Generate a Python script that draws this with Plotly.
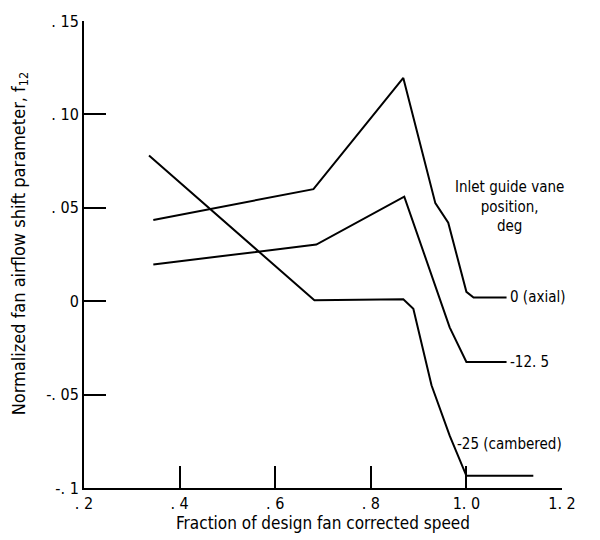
import plotly.graph_objects as go

# Data
x_axial = [0.345, 0.680, 0.868, 0.935, 0.962, 1.000, 1.015, 1.084]
y_axial = [0.0435, 0.060, 0.1195, 0.0525, 0.042, 0.005, 0.002, 0.002]

x_m125 = [0.345, 0.686, 0.870, 0.965, 1.000, 1.084]
y_m125 = [0.0197, 0.0303, 0.0560, -0.0140, -0.0325, -0.0325]

x_m25 = [0.336, 0.682, 0.868, 0.889, 0.927, 0.965, 1.000, 1.140]
y_m25 = [0.078, 0.0005, 0.001, -0.004, -0.0450, -0.0720, -0.0935, -0.0935]

x_tickvals = [0.2, 0.4, 0.6, 0.8, 1.0, 1.2]
x_ticktext = [". 2", ". 4", ". 6", ". 8", "1. 0", "1. 2"]
y_tickvals = [0.15, 0.10, 0.05, 0.0, -0.05, -0.1]
y_ticktext = [". 15", ". 10", ". 05", "0", "-. 05", "-. 1"]

FONT = "DejaVu Sans Condensed, Liberation Sans Narrow, Arial Narrow, Roboto, sans-serif"

fig = go.Figure()
for xs, ys in [(x_axial, y_axial), (x_m125, y_m125), (x_m25, y_m25)]:
    fig.add_trace(go.Scatter(x=xs, y=ys, mode="lines",
                             line=dict(color="black", width=2),
                             showlegend=False, hoverinfo="skip"))

fig.update_layout(
    width=600, height=540,
    margin=dict(l=84, r=38, t=16, b=52),
    paper_bgcolor="white", plot_bgcolor="white",
    font=dict(family=FONT, size=15, color="black"),
    xaxis=dict(range=[0.2, 1.2], tickvals=x_tickvals, ticktext=x_ticktext,
               ticks="inside", ticklen=22, tickwidth=2, tickcolor="black",
               showline=True, linecolor="black", linewidth=2,
               showgrid=False, zeroline=False, tickfont=dict(size=16)),
    yaxis=dict(range=[-0.1, 0.15], tickvals=y_tickvals, ticktext=y_ticktext,
               ticks="inside", ticklen=22, tickwidth=2, tickcolor="black",
               showline=True, linecolor="black", linewidth=2,
               showgrid=False, zeroline=False, tickfont=dict(size=16)),
)

annotations = [
    dict(text="Fraction of design fan corrected speed", xref="paper", yref="paper",
         x=0.5, y=-0.075, xanchor="center", yanchor="middle", font=dict(size=17)),
    dict(text="Normalized fan airflow shift parameter, f<sub>12</sub>", xref="paper", yref="paper",
         x=-0.135, y=0.525, xanchor="center", yanchor="middle", textangle=-90, font=dict(size=18)),
    dict(text="Inlet guide vane<br>position,<br>deg", xref="x", yref="y",
         x=1.09, y=0.067, xanchor="center", yanchor="top", align="center", font=dict(size=15)),
    dict(text="0 (axial)", xref="x", yref="y", x=1.087, y=0.002,
         xanchor="left", yanchor="middle", font=dict(size=15)),
    dict(text="-12. 5", xref="x", yref="y", x=1.087, y=-0.0325,
         xanchor="left", yanchor="middle", font=dict(size=15)),
    dict(text="-25 (cambered)", xref="x", yref="y", x=1.09, y=-0.0765,
         xanchor="center", yanchor="middle", font=dict(size=15)),
]
for a in annotations:
    a["showarrow"] = False
fig.update_layout(annotations=annotations)

fig.write_html("out.html")
